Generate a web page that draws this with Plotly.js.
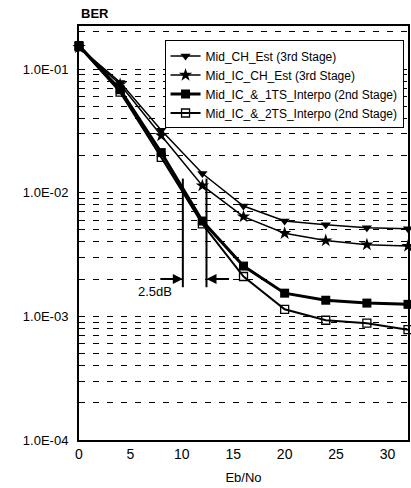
<!DOCTYPE html>
<html>
<head>
<meta charset="utf-8">
<script src="https://cdn.plot.ly/plotly-3.0.1.min.js"></script>
<style>html,body{margin:0;padding:0;background:#fff;}#chart{width:411px;height:488px;}</style>
</head>
<body>
<div id="chart"></div>
<script>
// Eb/No values (dB)
const ebno = [0, 4, 8, 12, 16, 20, 24, 28, 32];
// BER series
const midChEst    = [0.150, 0.078, 0.032, 0.0143, 0.0078, 0.0059, 0.0055, 0.0052, 0.0051];
const midIcChEst  = [0.150, 0.075, 0.029, 0.0114, 0.0064, 0.0047, 0.0041, 0.0038, 0.0037];
const midIc1TS    = [0.155, 0.068, 0.0211, 0.0059, 0.00255, 0.00154, 0.00135, 0.00128, 0.00125];
const midIc2TS    = [0.152, 0.065, 0.0193, 0.0056, 0.0021, 0.00114, 0.00093, 0.00088, 0.00078];
const seriesNames = ["Mid_CH_Est (3rd Stage)", "Mid_IC_CH_Est (3rd Stage)",
                     "Mid_IC_&_1TS_Interpo (2nd Stage)", "Mid_IC_&_2TS_Interpo (2nd Stage)"];
// Y tick labels
const yTickVals = [1e-4, 1e-3, 1e-2, 1e-1];
const yTickText = ["1.0E-04", "1.0E-03", "1.0E-02", "1.0E-01"];
const xTickVals = [0, 5, 10, 15, 20, 25, 30];
// annotation: 2.5 dB gap markers
const gapX = [10.1, 12.4];
const gapYTop = 0.013, gapYBottom = 0.00172, gapArrowY = 0.002;
const gapLabel = "2.5dB";

const minorVals = [];
for (let e = -4; e <= -1; e++) for (let m = 1; m <= 9; m++) minorVals.push(m * Math.pow(10, e));

const FONT = "Liberation Sans, Arial, sans-serif";
const traces = [
  {x: ebno, y: midChEst, name: seriesNames[0], mode: "lines+markers",
   line: {color: "#000", width: 1.5}, marker: {symbol: "triangle-down", size: 9, color: "#000"}},
  {x: ebno, y: midIcChEst, name: seriesNames[1], mode: "lines+markers",
   line: {color: "#000", width: 1.5}, marker: {symbol: "star", size: 10, color: "#000"}},
  {x: ebno, y: midIc1TS, name: seriesNames[2], mode: "lines+markers",
   line: {color: "#000", width: 3}, marker: {symbol: "square", size: 9, color: "#000"}},
  {x: ebno, y: midIc2TS, name: seriesNames[3], mode: "lines+markers",
   line: {color: "#000", width: 2}, marker: {symbol: "square-open", size: 8, color: "#000", line: {width: 1.3}}}
].map(t => Object.assign(t, {cliponaxis: false}));

const shapes = gapX.map(gx => ({type: "line", xref: "x", yref: "y", x0: gx, x1: gx,
  y0: gapYTop, y1: gapYBottom, line: {color: "#000", width: 2}}));

const annotations = [
  {text: "BER", xref: "paper", yref: "paper", x: 0, y: 1, xanchor: "left", yanchor: "bottom",
   yshift: 3, showarrow: false, font: {family: FONT, size: 13, color: "#000", weight: "bold"}},
  {x: gapX[0], y: Math.log10(gapArrowY), xref: "x", yref: "y", text: "", showarrow: true,
   ax: -24, ay: 0, arrowhead: 2, arrowsize: 1, arrowwidth: 2, arrowcolor: "#000"},
  {x: gapX[1], y: Math.log10(gapArrowY), xref: "x", yref: "y", text: "", showarrow: true,
   ax: 24, ay: 0, arrowhead: 2, arrowsize: 1, arrowwidth: 2, arrowcolor: "#000"},
  {x: 7.4, y: Math.log10(gapArrowY), xref: "x", yref: "y", text: gapLabel, showarrow: false,
   yshift: -12, font: {family: FONT, size: 13, color: "#000"}}
];

const layout = {
  width: 411, height: 488,
  margin: {l: 79, r: 3, t: 26, b: 48},
  paper_bgcolor: "#fff", plot_bgcolor: "#fff",
  font: {family: FONT, size: 13, color: "#000"},
  showlegend: true,
  legend: {x: 0.26, y: 0.965, xanchor: "left", yanchor: "top", bgcolor: "#fff",
    bordercolor: "#000", borderwidth: 1, font: {family: FONT, size: 12, color: "#000"},
    itemwidth: 30, tracegroupgap: 0},
  xaxis: {range: [0, 32], tickvals: xTickVals, showgrid: false, zeroline: false,
    showline: true, linecolor: "#000", linewidth: 2, mirror: true, ticks: "",
    tickfont: {family: FONT, size: 14, color: "#000"},
    title: {text: "Eb/No", font: {family: FONT, size: 13, color: "#000"}, standoff: 12}},
  yaxis: {type: "log", range: [-4, -0.652], tickvals: yTickVals, ticktext: yTickText,
    showline: true, linecolor: "#000", linewidth: 2, mirror: true, ticks: "",
    showgrid: true, gridcolor: "#000", gridwidth: 1, griddash: "6px,8px", zeroline: false,
    tickfont: {family: FONT, size: 13, color: "#000"}, ticklabelstandoff: 6,
    minor: {tickvals: minorVals, ticks: "inside", ticklen: 3, tickcolor: "#000",
      showgrid: true, gridcolor: "#000", gridwidth: 1, griddash: "6px,8px"}},
  shapes: shapes,
  annotations: annotations
};

Plotly.newPlot("chart", traces, layout, {displayModeBar: false, staticPlot: true});
</script>
</body>
</html>
